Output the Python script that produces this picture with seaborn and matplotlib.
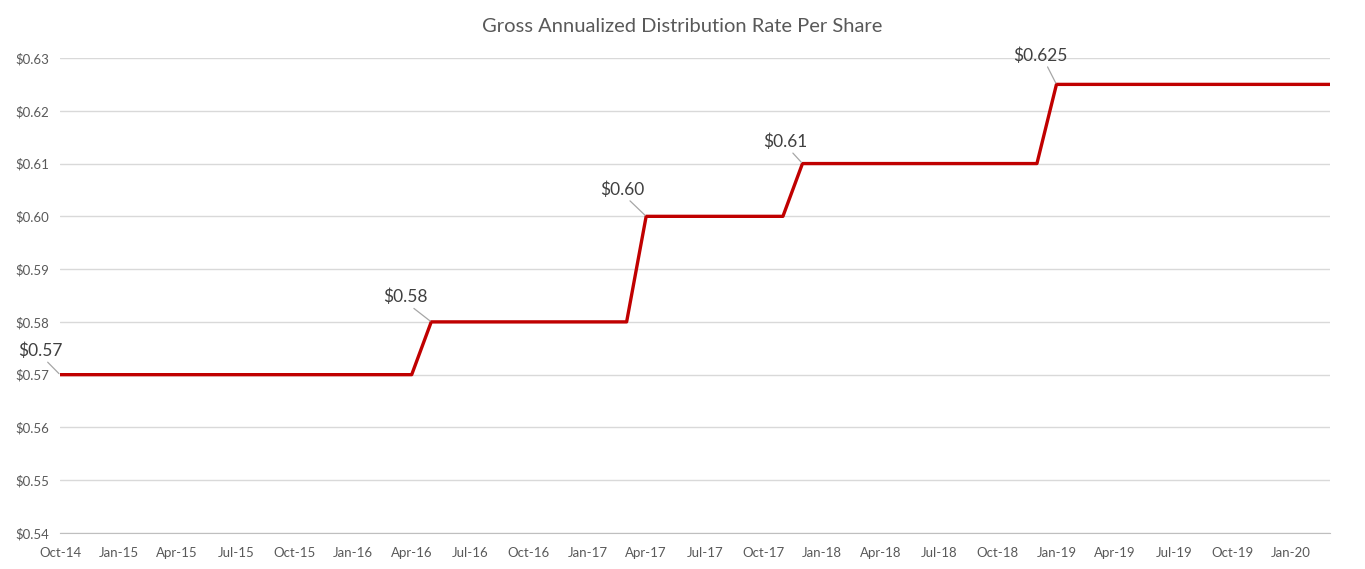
import matplotlib
matplotlib.use("Agg")
import matplotlib.pyplot as plt
import seaborn as sns
import pandas as pd
import numpy as np

# monthly data, Oct-14 .. Mar-20
months = pd.date_range("2014-10-01", "2020-03-01", freq="MS").strftime("%b-%y").tolist()
rate = [
    0.57, 0.57, 0.57, 0.57, 0.57, 0.57, 0.57, 0.57, 0.57, 0.57,
    0.57, 0.57, 0.57, 0.57, 0.57, 0.57, 0.57, 0.57, 0.57,          # Oct-14 .. Apr-16
    0.58, 0.58, 0.58, 0.58, 0.58, 0.58, 0.58, 0.58, 0.58, 0.58, 0.58,  # May-16 .. Mar-17
    0.60, 0.60, 0.60, 0.60, 0.60, 0.60, 0.60, 0.60,                # Apr-17 .. Nov-17
    0.61, 0.61, 0.61, 0.61, 0.61, 0.61, 0.61, 0.61, 0.61, 0.61,
    0.61, 0.61, 0.61,                                              # Dec-17 .. Dec-18
    0.625, 0.625, 0.625, 0.625, 0.625, 0.625, 0.625, 0.625,
    0.625, 0.625, 0.625, 0.625, 0.625, 0.625, 0.625,               # Jan-19 .. Mar-20
]
label_idx = [0, 19, 30, 38, 51]
label_txt = ["$0.57", "$0.58", "$0.60", "$0.61", "$0.625"]
label_off = [(-20, 24), (-26, 25), (-24, 27), (-17, 22), (-16, 29)]
yticks = [0.54, 0.55, 0.56, 0.57, 0.58, 0.59, 0.60, 0.61, 0.62, 0.63]

df = pd.DataFrame({"idx": np.arange(len(months)), "month": months, "rate": rate})

sns.set_style("white")
plt.rcParams["font.family"] = ["Lato", "DejaVu Sans"]

fig = plt.figure(figsize=(13.65, 5.69), dpi=100)
ax = fig.add_axes([60 / 1365, 1 - 533 / 569, 1270 / 1365, 475 / 569])

sns.lineplot(data=df, x="idx", y="rate", ax=ax, color="#C00000", linewidth=2.4)

ax.set_xlim(0, len(months) - 1)
ax.set_ylim(0.54, 0.63)
ax.set_yticks(yticks)
ax.set_yticklabels([f"${v:.2f}" for v in yticks], fontsize=9.5, color="#595959")
xt = list(range(0, len(months), 3))
ax.set_xticks(xt)
ax.set_xticklabels([months[i] for i in xt], fontsize=9.5, color="#595959")
ax.tick_params(axis="y", length=0, pad=8)
ax.tick_params(axis="x", length=4, color="#BFBFBF", pad=6)
ax.grid(axis="y", color="#D9D9D9", linewidth=1)
ax.set_axisbelow(True)
for s in ["top", "right", "left"]:
    ax.spines[s].set_visible(False)
ax.spines["bottom"].set_color("#BFBFBF")
ax.set_xlabel("")
ax.set_ylabel("")

for i, t, off in zip(label_idx, label_txt, label_off):
    ax.annotate(t, xy=(i, rate[i]), xytext=off, textcoords="offset pixels",
                ha="center", va="center", fontsize=12.5, color="#404040",
                arrowprops=dict(arrowstyle="-", color="#A6A6A6", lw=0.9,
                                relpos=(0.6, 0.0), shrinkA=0, shrinkB=1))

fig.text(0.5, 1 - 27 / 569, "Gross Annualized Distribution Rate Per Share",
         ha="center", va="center", fontsize=14.5, color="#595959")

fig.savefig("out.png", dpi=100)
